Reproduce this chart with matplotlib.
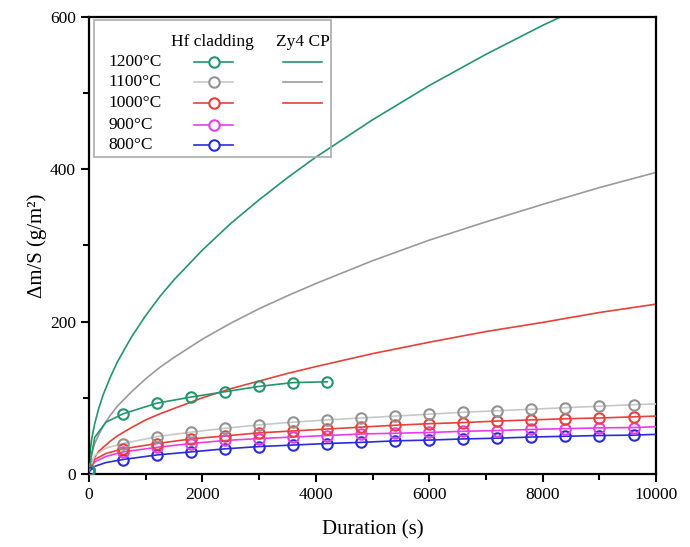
import matplotlib
matplotlib.use('Agg')
import matplotlib.pyplot as plt
import numpy as np

plt.rcParams['font.family'] = ['Liberation Serif', 'DejaVu Serif']

# Hf cladding measurements (s, g/m2)
t_hf = [0, 600, 1200, 1800, 2400, 3000, 3600, 4200, 4800, 5400, 6000,
        6600, 7200, 7800, 8400, 9000, 9600]
t_hf_1200 = [0, 600, 1200, 1800, 2400, 3000, 3600, 4200]
hf_1200 = [5, 79, 93, 101, 108, 115, 120, 121]
hf_1100 = [5, 40, 49, 55, 60, 64.5, 68, 71, 73.5, 76, 78.5, 81, 83, 85, 87, 89, 91]
hf_1000 = [5, 33, 40, 46, 50, 54, 56.5, 59, 61.5, 64, 66, 67.5, 69.5, 71, 72.5, 73.5, 75]
hf_900 = [5, 29, 35, 40, 44, 46.5, 48.5, 50.5, 52.5, 53.5, 54.5, 56, 57, 58.5, 59.5, 60.5, 61]
hf_800 = [3, 19, 25, 29, 33, 36, 38, 40, 41.5, 43.5, 44.5, 46, 47, 48.5, 49.5, 50.5, 51]
# line values read at t=100 s and t=300 s, and at the right edge (10000 s)
hf_early = {'1200': [48, 68], '1100': [24, 34], '1000': [19, 27],
            '900': [16, 23], '800': [10, 15]}
hf_end = {'1100': 92, '1000': 76, '900': 62, '800': 52}

# Zy4 CP curves
t_zy = [0, 10, 25, 50, 100, 175, 250, 375, 500, 750, 1000, 1250, 1500, 2000,
        2500, 3000, 3500, 4000, 5000, 6000, 7000, 8000, 9000, 10000]
zy_1200 = [0, 21, 33, 47, 66, 87, 104, 127, 147, 180, 208, 233, 255, 294,
           329, 360, 389, 416, 465, 510, 551, 589, 624, 658]
zy_1100 = [0, 13, 20, 28, 40, 52, 63, 77, 89, 108, 125, 140, 153, 177,
           198, 217, 234, 250, 280, 307, 331, 354, 376, 396]
zy_1000 = [0, 7, 11, 16, 22, 30, 35, 43, 50, 61, 71, 79, 86, 100,
           112, 122, 132, 141, 158, 173, 187, 199, 212, 223]

green = '#23966a'
gray_hf = '#c8c8c8'
gray_mk = '#939393'
gray_zy = '#9a9a9a'
red = '#e8403a'
magenta = '#e83ee8'
blue = '#2b2bd9'

fig = plt.figure(figsize=(6.9, 5.47), dpi=100)
ax = fig.add_axes([0.129, 0.1335, 0.822, 0.8355])

# Zy4 CP
ax.plot(t_zy, zy_1200, color=green, lw=1.2, zorder=2)
ax.plot(t_zy, zy_1100, color=gray_zy, lw=1.2, zorder=2)
ax.plot(t_zy, zy_1000, color=red, lw=1.2, zorder=2)

mk = dict(marker='o', ms=7.5, mfc='none', mew=1.5, lw=0, zorder=4)

# Hf cladding
series = [('1100', hf_1100, gray_hf, gray_mk), ('1000', hf_1000, red, red),
          ('900', hf_900, magenta, magenta), ('800', hf_800, blue, blue)]
for key, vals, c, mc in series[::-1]:
    lt = [0, 100, 300] + t_hf[1:] + [10000]
    lv = [vals[0]] + hf_early[key] + vals[1:] + [hf_end[key]]
    ax.plot(lt, lv, color=c, lw=1.2, zorder=3)
    ax.plot(t_hf, vals, color=mc, **mk)

lt = [0, 100, 300] + t_hf_1200[1:]
lv = [hf_1200[0]] + hf_early['1200'] + hf_1200[1:]
ax.plot(lt, lv, color=green, lw=1.2, zorder=3)
ax.plot(t_hf_1200, hf_1200, color=green, **mk)

ax.set_xlim(0, 10000)
ax.set_ylim(0, 600)
ax.set_xticks(np.arange(0, 10001, 2000))
ax.set_xticks(np.arange(0, 10001, 1000), minor=True)
ax.set_yticks([0, 200, 400, 600])
ax.set_yticks([100, 300, 500], minor=True)
ax.tick_params(which='both', direction='out', width=1.5, labelsize=12.5)
ax.tick_params(which='major', length=6)
ax.tick_params(which='minor', length=4)
for s in ax.spines.values():
    s.set_linewidth(1.6)
ax.set_xlabel('Duration (s)', fontsize=15, labelpad=12)
ax.set_ylabel('Δm/S (g/m²)', fontsize=15, labelpad=2)

# legend table
tr = ax.transAxes
box = plt.Rectangle((0.009, 0.694), 0.417, 0.299, transform=tr, fill=False,
                    ec='#aaaaaa', lw=1.2, zorder=5)
ax.add_patch(box)
ax.text(0.218, 0.946, 'Hf cladding', transform=tr, ha='center', va='center', fontsize=12.5)
ax.text(0.378, 0.946, 'Zy4 CP', transform=tr, ha='center', va='center', fontsize=12.5)
rows = ['1200°C', '1100°C', '1000°C', '900°C', '800°C']
row_y = [0.902, 0.858, 0.811, 0.764, 0.720]
hf_cols = [green, gray_hf, red, magenta, blue]
hf_mks = [green, gray_mk, red, magenta, blue]
zy_cols = [green, gray_zy, red]
for i, lab in enumerate(rows):
    y = row_y[i]
    ax.text(0.034, y, lab, transform=tr, ha='left', va='center', fontsize=12.5)
    ax.plot([0.185, 0.254], [y, y], transform=tr, color=hf_cols[i], lw=1.2, zorder=6)
    ax.plot([0.2195], [y], transform=tr, color=hf_mks[i], marker='o', ms=7.5,
            mfc='white', mew=1.5, zorder=7)
    if i < len(zy_cols):
        ax.plot([0.342, 0.411], [y, y], transform=tr, color=zy_cols[i], lw=1.2, zorder=6)

fig.savefig('out.png', dpi=100)
